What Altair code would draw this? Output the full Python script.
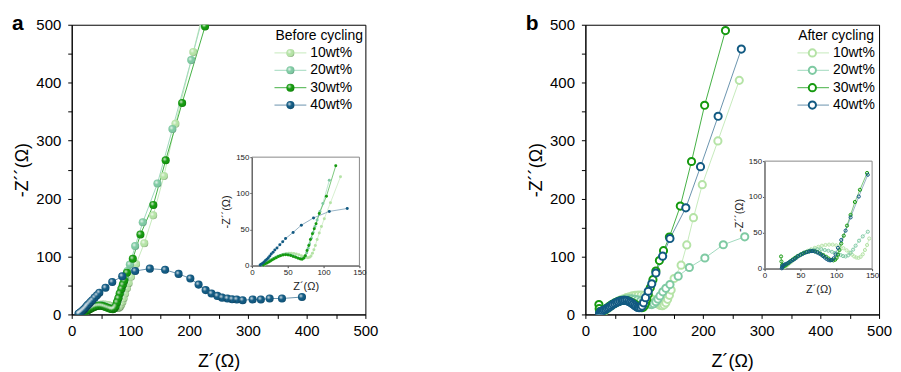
import altair as alt
import pandas as pd

FONT = "Liberation Sans"
series = ["10wt%", "20wt%", "30wt%", "40wt%"]
legend_titles = ["Before cycling", "After cycling"]
marker_colors = ["#b5e3a6", "#7fcaa3", "#15990f", "#125a82"]
line_colors = ["#c6eabb", "#a0d9bd", "#45b045", "#6a93ad"]
main_ticks = [0, 50, 100, 150, 200, 250, 300, 350, 400, 450, 500]
inset_ticks = [0, 50, 100, 150]

# ---- Before cycling ----
b10_x = [17, 19.5, 22, 24.5, 27, 29.5, 32, 35, 38, 41, 44.5, 48, 51.5, 55, 58.5, 62, 65.5, 69, 72.5, 75.5,
         78, 80.5, 82.5, 84.5, 86.5, 88.5, 91, 94, 97, 101, 109.6, 123.6, 138.7, 157, 176.7, 207, 236]
b10_y = [1, 2.5, 4, 5.5, 7, 8.5, 10, 11.5, 13, 14.5, 15.8, 16.8, 17.2, 17.2, 16.8, 16, 15, 13.8, 12.5, 11.5,
         11, 11.5, 13.5, 17, 22, 28, 36, 45, 54, 65, 87, 123, 171, 239, 329, 453, 572]
b20_x = [15, 17.5, 20, 22.5, 25, 27.5, 30, 33, 36, 39, 42.5, 46, 49.5, 53, 56.5, 60, 63.5, 67, 70, 72.5,
         74.5, 76.5, 78.5, 80.5, 83, 85.5, 88, 91, 95, 99, 108, 121, 146, 171.5, 203.5, 236]
b20_y = [1, 2.5, 4, 5.5, 7, 8.5, 10, 11.5, 13, 14.2, 15.2, 15.8, 15.8, 15.2, 14, 12.5, 11, 10, 9.5, 10.5,
         13.5, 18, 24, 30, 38, 46, 54, 63, 75, 86, 118, 159, 226, 320, 439, 562]
b30_x = [16, 18.5, 21, 23.5, 26, 28.5, 31, 34, 37, 40, 43.5, 47, 50.5, 54, 57.5, 61, 64.5, 67.5, 70, 72.5,
         74.5, 77, 79.4, 81.7, 84.5, 87, 89.5, 94, 104, 117, 139, 160, 188, 227]
b30_y = [1, 2.5, 3.7, 5, 6.5, 8, 9.5, 11, 12.5, 13.8, 14.6, 15, 14.8, 14, 12.8, 11.5, 10.2, 9.3, 9, 10.5,
         13.8, 20.8, 28, 36, 44, 51, 58, 72, 96, 138, 189, 266, 365, 497]
b40_x = [11.5, 13, 15, 17, 19, 21, 23, 25, 27, 29.5, 32, 35, 39, 43, 47, 57.5, 69, 86, 108, 133,
         159, 182, 202, 216, 228, 238, 248, 256, 265, 273, 281, 291, 308, 322, 337, 358, 392]
b40_y = [1, 2, 3.5, 5, 7, 9, 11, 13.5, 16, 18.5, 21.5, 24.5, 29, 33, 37.5, 46, 56, 66, 75, 79,
         77, 70, 62, 51.5, 42, 36, 32, 29, 27.5, 26.3, 25.8, 24.6, 25.8, 25.8, 27.5, 27.5, 30]

# ---- After cycling ----
a10_x = [28, 30, 32.5, 35, 38, 41, 44.5, 48, 52, 56, 60.5, 65, 70, 75, 80, 85, 90, 95, 100, 105,
         110, 114.5, 118.5, 122, 125, 128, 131, 134, 137, 140, 143, 146, 151, 163, 172.6, 184, 199, 225.6, 262]
a10_y = [2, 3.5, 5.5, 7.5, 10, 12.5, 15, 17.5, 20, 22.5, 25, 27, 29, 30.5, 32, 33, 33.5, 33.5, 32.5, 31,
         28.5, 25.5, 22.5, 19.5, 17, 15.5, 15, 16.5, 20, 26, 33, 42, 62, 85, 120, 167, 224, 299.5, 404]
a20_x = [26, 28, 30.5, 33, 36, 39.5, 43, 47, 51, 55, 59.5, 64, 69, 74, 79, 84, 89, 94, 98.5, 102.5,
         106, 109.5, 113, 116.5, 120, 123.5, 127, 131.8, 137, 144, 158, 177, 203.4, 234.8, 271.3]
a20_y = [2, 4, 6, 8, 10.5, 13, 15.5, 18, 20.5, 22.5, 24, 25.5, 26.5, 27, 27, 26, 25, 23.5, 22, 20.5,
         19, 17.5, 17, 18.5, 22, 26.5, 32, 39, 45, 51.5, 66, 81, 97.4, 120.3, 134]
a30_x = [23, 23.5, 24.5, 26, 28, 30.5, 33, 36, 39, 42.5, 46, 50, 54, 58, 62, 66, 70, 74, 78, 82,
         86, 89.5, 93, 96, 98.5, 100.5, 102.5, 104.5, 107, 110.5, 115, 120, 126, 133, 143, 161.6, 180.7, 203, 238.5]
a30_y = [17, 10, 5, 3, 4, 5.5, 7.5, 10, 12.5, 15, 17.5, 19.5, 21.5, 23, 24, 24.5, 24, 23, 21, 19,
         16.5, 14, 12, 11.5, 12.5, 15, 19.5, 26, 35, 46, 60, 75, 93, 110, 133.5, 187, 264, 361, 490]
a40_x = [24, 24.5, 25, 26, 27.5, 29.5, 32, 34.5, 37, 39.5, 42, 44.5, 47, 50, 53, 56, 59, 62, 64.6, 67.5,
         70.5, 73.5, 76.5, 79, 81.5, 84, 86.5, 89, 91.5, 94, 96.5, 99, 102.4, 107, 113, 120, 131.5, 144, 171, 196,
         226, 265.5]
a40_y = [0.5, 2, 3.5, 4.5, 5.5, 6.5, 7.5, 9, 10.5, 12, 13.5, 15.5, 17.5, 19, 20.5, 22, 23, 24, 24.5, 24.5,
         24, 22.5, 21, 19.5, 17.5, 15.5, 13.5, 12, 11.5, 12, 14.5, 20, 29, 40, 53, 71.5, 100.6, 131, 184, 255,
         342, 458]


def build_df(xs, ys):
    rows = []
    for k, (s, xv, yv) in enumerate(zip(series, xs, ys)):
        for i, (a, b) in enumerate(zip(xv, yv)):
            rows.append({"s": s, "x": a, "y": b, "i": i, "k": k})
    return pd.DataFrame(rows)


before = build_df([b10_x, b20_x, b30_x, b40_x], [b10_y, b20_y, b30_y, b40_y])
after = build_df([a10_x, a20_x, a30_x, a40_x], [a10_y, a20_y, a30_y, a40_y])
frame_df = pd.DataFrame({"x": [0], "y": [0], "x2": [150], "y2": [150]})
legend_df = pd.DataFrame({"s": series, "r": list(range(len(series)))})

W, H = 295, 291

highlight = {
    "gradient": "radial",
    "x1": 0.36, "y1": 0.34, "r1": 0,
    "x2": 0.42, "y2": 0.42, "r2": 0.62,
    "stops": [
        {"offset": 0, "color": "rgba(255,255,255,0.85)"},
        {"offset": 0.45, "color": "rgba(255,255,255,0)"},
        {"offset": 0.8, "color": "rgba(0,0,0,0)"},
        {"offset": 1, "color": "rgba(0,0,0,0.3)"},
    ],
}


def panel(df, legend_title, letter, hollow, ix_range, iy_range, leg_x):
    lab = "datum.value % 100 === 0 ? datum.label : ''"
    msx = alt.Scale(domain=[0, 500], nice=False, zero=False)
    msy = alt.Scale(domain=[0, 500], nice=False, zero=False)
    X = alt.X("x:Q", scale=msx,
              axis=alt.Axis(title="Z´(Ω)", values=main_ticks, labelExpr=lab, labelFontSize=15,
                            titleFontSize=18, tickSize=4, labelPadding=5, titlePadding=14, labelFlush=False))
    Y = alt.Y("y:Q", scale=msy,
              axis=alt.Axis(title="-Z´´(Ω)", values=main_ticks, labelExpr=lab, labelFontSize=15,
                            titleFontSize=18, tickSize=4, labelPadding=7, titlePadding=4, labelFlush=False))
    Xn = alt.X("x:Q", scale=msx, axis=None)
    Yn = alt.Y("y:Q", scale=msy, axis=None)
    col_scale = alt.Scale(domain=series, range=marker_colors)
    line_scale = alt.Scale(domain=series, range=line_colors)
    lines = alt.Chart(df).mark_line(strokeWidth=1, clip=True).encode(
        X, Y, stroke=alt.Stroke("s:N", scale=line_scale, legend=None), order="i:Q")
    layers = [lines]
    if hollow:
        pts = alt.Chart(df).mark_point(shape="circle", size=52, filled=False, fill="white",
                                       strokeWidth=2, opacity=1, clip=True).encode(
            Xn, Yn, color=alt.Color("s:N", scale=col_scale, legend=None))
        layers.append(pts)
    else:
        for s in series:
            base = alt.Chart(df).transform_filter(alt.datum.s == s).mark_circle(
                size=66, opacity=1, clip=True).encode(
                Xn, Yn, color=alt.Color("s:N", scale=col_scale, legend=None))
            hl = alt.Chart(df).transform_filter(alt.datum.s == s).mark_circle(
                size=66, opacity=1, fill=highlight, strokeWidth=0, clip=True).encode(Xn, Yn)
            layers += [base, hl]

    # inset
    iax = dict(labelFontSize=8, titleFontSize=11, tickSize=2, labelPadding=1, titlePadding=4,
               domainColor="#444", tickColor="#444", labelColor="#222", titleColor="#222",
               values=inset_ticks, labelFlush=False)
    isx = alt.Scale(domain=[0, 150], range=ix_range, nice=False, zero=False)
    isy = alt.Scale(domain=[0, 150], range=iy_range, nice=False, zero=False)
    IX = alt.X("x:Q", scale=isx,
               axis=alt.Axis(orient="bottom", offset=-(H - iy_range[0]), title="Z´(Ω)", **iax))
    IY = alt.Y("y:Q", scale=isy,
               axis=alt.Axis(orient="left", offset=-ix_range[0], title="-Z´´(Ω)", **iax))
    IXn = alt.X("x:Q", scale=isx, axis=None)
    IYn = alt.Y("y:Q", scale=isy, axis=None)
    frame = alt.Chart(frame_df).mark_rect(filled=False, stroke="#888", strokeWidth=1).encode(
        x=IX, y=IY, x2="x2:Q", y2="y2:Q")
    flt = "datum.x <= 150 && datum.y <= 150"
    ilines = alt.Chart(df).transform_filter(flt).mark_line(strokeWidth=0.7).encode(
        IXn, IYn, stroke=alt.Stroke("s:N", scale=line_scale, legend=None), order="i:Q")
    if hollow:
        ipts = alt.Chart(df).transform_filter(flt).mark_point(shape="circle", size=10, strokeWidth=1,
                                                              filled=False, opacity=1).encode(
            IXn, IYn, color=alt.Color("s:N", scale=col_scale, legend=None))
    else:
        ipts = alt.Chart(df).transform_filter(flt).mark_circle(size=9, opacity=1).encode(
            IXn, IYn, color=alt.Color("s:N", scale=col_scale, legend=None))
    layers += [frame, ilines, ipts]

    # legend (drawn as marks: line segment + marker + label per series)
    lx_line0, lx_line1, lx_sym, lx_lab, lx_title = leg_x
    RY = alt.Y("r:Q", scale=alt.Scale(domain=[0, 3], range=[28.3, 80.7], nice=False, zero=False), axis=None)
    leg_line = alt.Chart(legend_df).mark_rule(strokeWidth=1).encode(
        x=alt.value(lx_line0), x2=alt.value(lx_line1), y=RY,
        stroke=alt.Stroke("s:N", scale=line_scale, legend=None))
    layers.append(leg_line)
    if hollow:
        layers.append(alt.Chart(legend_df).mark_point(shape="circle", size=52, filled=False, fill="white",
                                                      strokeWidth=2, opacity=1).encode(
            x=alt.value(lx_sym), y=RY, color=alt.Color("s:N", scale=col_scale, legend=None)))
    else:
        layers.append(alt.Chart(legend_df).mark_circle(size=66, opacity=1).encode(
            x=alt.value(lx_sym), y=RY, color=alt.Color("s:N", scale=col_scale, legend=None)))
        layers.append(alt.Chart(legend_df).mark_circle(size=66, opacity=1, fill=highlight, strokeWidth=0).encode(
            x=alt.value(lx_sym), y=RY))
    layers.append(alt.Chart(legend_df).mark_text(align="left", baseline="middle", fontSize=14, font=FONT,
                                                 color="black").encode(
        x=alt.value(lx_lab), y=RY, text="s:N"))
    layers.append(alt.Chart(pd.DataFrame({"t": [legend_title]})).mark_text(
        align="left", baseline="middle", fontSize=14, font=FONT, color="black").encode(
        x=alt.value(lx_title), y=alt.value(11.7), text="t:N"))

    return alt.layer(*layers).resolve_scale(
        x="independent", y="independent"
    ).properties(
        width=W, height=H,
        title=alt.TitleParams(letter, anchor="start", frame="group", fontSize=21, fontWeight="bold",
                              dx=-60, dy=20, font=FONT, color="black"))


left = panel(before, legend_titles[0], "a", False, [181, 289], [242, 133],
             (203.7, 235.7, 219.7, 239.7, 204.7))
right = panel(after, legend_titles[1], "b", True, [180, 288], [245, 137],
              (213, 244.7, 228, 248.7, 213.7))

chart = alt.hconcat(left, right, spacing=146).resolve_scale(
    color="independent", stroke="independent"
).configure(
    padding={"left": 3, "top": 3, "right": 0, "bottom": 0}
).configure_view(stroke="black", strokeWidth=1).configure_axis(
    labelFont=FONT, titleFont=FONT, grid=False, domainColor="black", tickColor="black",
    labelColor="black", titleColor="black", titleFontWeight="normal"
).configure_title(font=FONT)

chart.save("out.html", embed_options={"renderer": "svg", "actions": False})
